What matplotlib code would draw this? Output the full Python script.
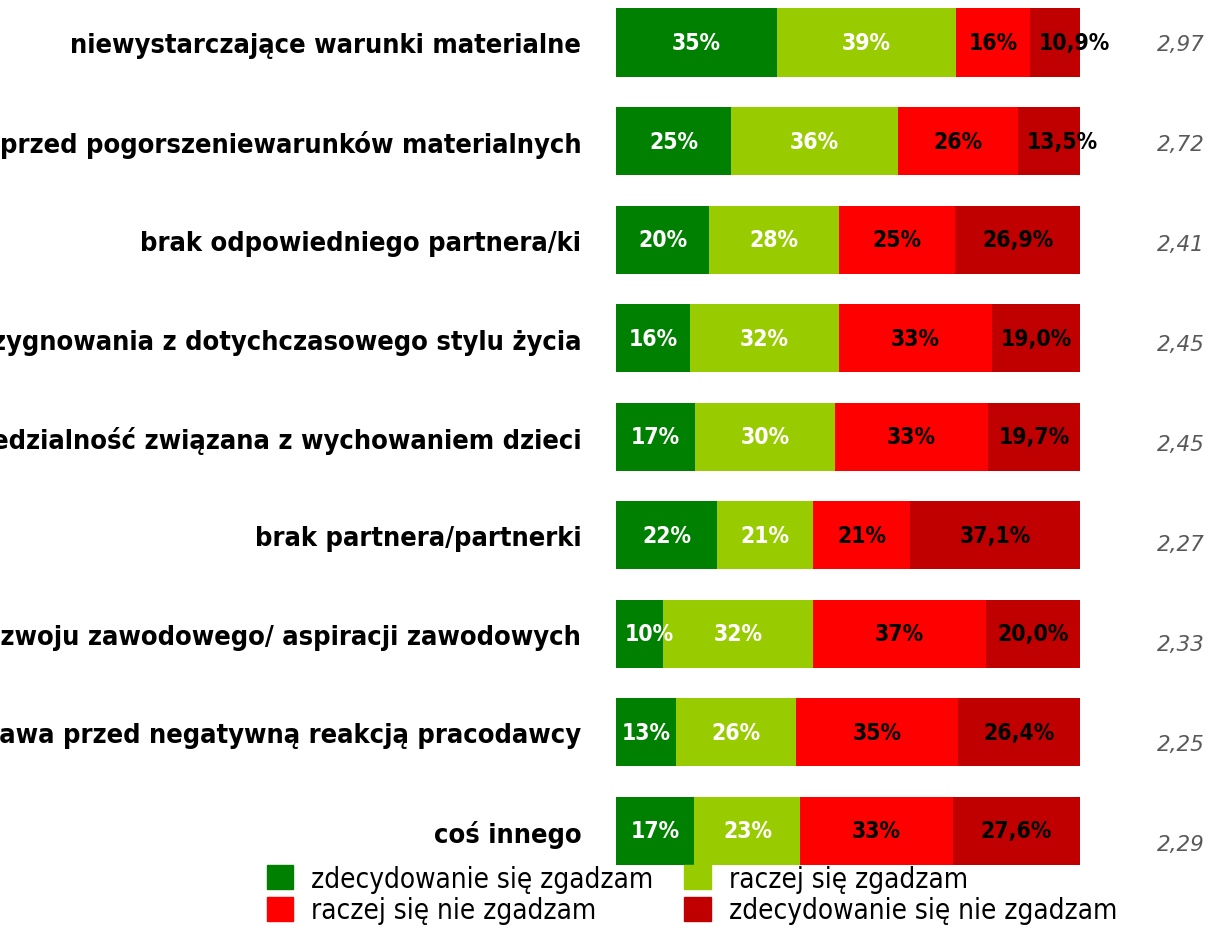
import matplotlib
matplotlib.use("Agg")
import matplotlib.pyplot as plt
import matplotlib.transforms as mtransforms
from matplotlib.patches import Patch

# kategorie (lewa strona wykresu jest ucięta w oryginale)
kategorie = [
    "niewystarczające warunki materialne",
    "obawa przed pogorszeniewarunków materialnych",
    "brak odpowiedniego partnera/ki",
    "konieczność zrezygnowania z dotychczasowego stylu życia",
    "odpowiedzialność związana z wychowaniem dzieci",
    "brak partnera/partnerki",
    "zahamowanie rozwoju zawodowego/ aspiracji zawodowych",
    "obawa przed negatywną reakcją pracodawcy",
    "coś innego",
]

zdecydowanie_tak = [35, 25, 20, 16, 17, 22, 10, 13, 17]
raczej_tak = [39, 36, 28, 32, 30, 21, 32, 26, 23]
raczej_nie = [16, 26, 25, 33, 33, 21, 37, 35, 33]
zdecydowanie_nie = [10.9, 13.5, 26.9, 19.0, 19.7, 37.1, 20.0, 26.4, 27.6]

srednie = [2.97, 2.72, 2.41, 2.45, 2.45, 2.27, 2.33, 2.25, 2.29]

nazwy_serii = [
    "zdecydowanie się zgadzam",
    "raczej się zgadzam",
    "raczej się nie zgadzam",
    "zdecydowanie się nie zgadzam",
]
kolory = ["#008000", "#99CC00", "#FF0000", "#C00000"]
kolory_tekstu = ["white", "white", "black", "black"]

FONT = "DejaVu Sans"

fig = plt.figure(figsize=(12.1, 9.29), dpi=100)
ax = fig.add_axes([616 / 1210, 0.0, 464 / 1210, 1.0])

serie = [zdecydowanie_tak, raczej_tak, raczej_nie, zdecydowanie_nie]
n = len(kategorie)
y = list(range(n))
sumy = [sum(s[i] for s in serie) for i in range(n)]

lewe = [0.0] * n
napisy = []
for k, s in enumerate(serie):
    szer = [s[i] / sumy[i] * 100 for i in range(n)]
    ax.barh(y, szer, left=lewe, height=0.69, color=kolory[k], edgecolor="none")
    for i in range(n):
        if k < 3:
            etykieta = f"{s[i]:.0f}%"
        else:
            etykieta = f"{s[i]:.1f}%".replace(".", ",")
        t = ax.text(lewe[i] + szer[i] / 2, y[i], etykieta, ha="center", va="center",
                    color=kolory_tekstu[k], fontsize=16.5, fontweight="bold",
                    family=FONT, fontstretch="condensed")
        napisy.append((t, lewe[i], szer[i]))
    lewe = [lewe[i] + szer[i] for i in range(n)]

ax.set_xlim(0, 100)
ax.set_ylim((929 - 43.5) / 98.56, -43.5 / 98.56)
ax.set_yticks(y)
ax.set_yticklabels(kategorie, fontsize=19.5, fontweight="bold", family=FONT,
                   fontstretch="condensed")
ax.tick_params(axis="y", length=0, pad=25)
ax.set_xticks([])
for sp in ax.spines.values():
    sp.set_visible(False)

# średnie po prawej stronie
ax2 = fig.add_axes([1090 / 1210, 0.0, 115 / 1210, 1.0])
ax2.set_ylim((929 - 45) / 100, -45 / 100)
ax2.set_xlim(0, 1)
ax2.axis("off")
for i, v in enumerate(srednie):
    ax2.text(1, i, f"{v:.2f}".replace(".", ","), ha="right", va="center",
             fontsize=15.5, style="italic", color="#595959", family=FONT)

# etykiety szersze niż segment -> wyrównane do lewej
fig.canvas.draw()
renderer = fig.canvas.get_renderer()
przesuniecie = mtransforms.offset_copy(ax.transData, fig=fig, x=9, y=0, units="dots")
for t, l, w in napisy:
    bb = t.get_window_extent(renderer)
    px = ax.transData.transform((l + w, 0))[0] - ax.transData.transform((l, 0))[0]
    if bb.width > px - 6:
        t.set_ha("left")
        t.set_x(l)
        t.set_transform(przesuniecie)

uchwyty = [Patch(color=kolory[j]) for j in [0, 2, 1, 3]]
opisy = [nazwy_serii[j] for j in [0, 2, 1, 3]]
fig.legend(uchwyty, opisy, loc="upper left", bbox_to_anchor=(267 / 1210, 1 - 866 / 929),
           ncol=2, frameon=False, prop={"family": FONT, "size": 20, "stretch": "condensed"},
           handlelength=0.95, handleheight=0.95, handletextpad=0.65,
           columnspacing=1.1, labelspacing=0.12, borderpad=0, borderaxespad=0)

fig.savefig("out.png", dpi=100)
